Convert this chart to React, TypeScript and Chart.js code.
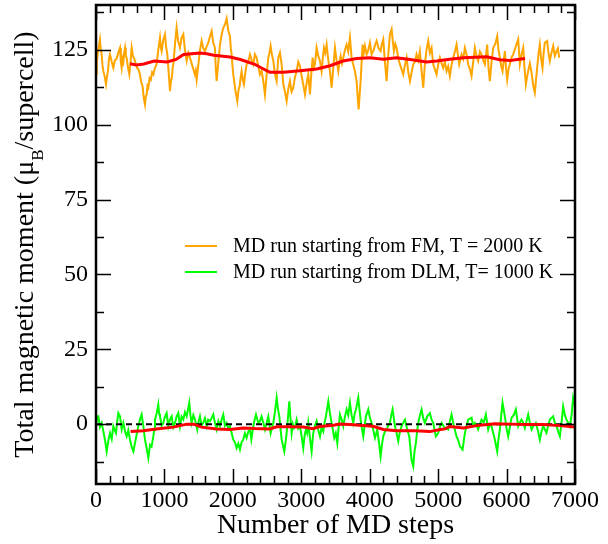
import React, { useEffect, useRef } from "react";
import { Chart, registerables } from "chart.js";

Chart.register(...registerables);

// ---------- data: [MD step, total moment] ----------
const fmLabel = "MD run starting from FM, T = 2000 K";
const dlmLabel = "MD run starting from DLM, T= 1000 K";

const fmTrace: number[][] = [
  [0, 117], [12, 121], [25, 124], [40, 126], [58, 128.5], [70, 125], [80, 124], [95, 120], [107, 117.9], [128, 116],
  [146, 113.5], [160, 116], [175, 118], [190, 122], [205, 123.5], [230, 121], [253, 119], [275, 121.5], [300, 122], [325, 124],
  [351, 125.7], [363, 121], [375, 119], [388, 122], [400, 121], [412, 124], [424, 125.7], [436, 123], [448, 122.4], [468, 119],
  [487, 116.8], [505, 121], [521, 125.7], [540, 123], [560, 122], [580, 120.5], [600, 119], [620, 118.5], [643, 116.8], [662, 114],
  [680, 113], [698, 109], [716, 106.8], [728, 109.5], [740, 110], [752, 113], [765, 112.4], [783, 115.5], [800, 115], [820, 117.5],
  [838, 116.8], [862, 119], [886, 120.2], [910, 125], [935, 129.1], [947, 126], [959, 124.6], [985, 128.5], [1008, 130.2], [1025, 126],
  [1042, 123.5], [1060, 118], [1070, 115], [1081, 111.2], [1095, 114.5], [1110, 116], [1120, 119], [1130, 120.2], [1155, 127], [1178, 132.4],
  [1200, 128], [1227, 125.7], [1250, 129], [1276, 130.2], [1300, 125], [1325, 121.3], [1350, 124], [1373, 122.4], [1410, 119.5], [1446, 116.8],
  [1458, 118], [1471, 115.1], [1500, 121], [1520, 125], [1544, 128], [1568, 125.5], [1592, 124.6], [1615, 126], [1641, 127.4], [1665, 129.5],
  [1690, 131.3], [1712, 127.5], [1738, 125.7], [1750, 119], [1763, 114.6], [1788, 121], [1812, 126.8], [1835, 130], [1860, 132.4], [1885, 133.5],
  [1909, 135.5], [1933, 131.5], [1958, 129.6], [1970, 125.5], [1982, 123.5], [1995, 119.5], [2006, 116.8], [2040, 111], [2065, 107.9], [2082, 111.5],
  [2100, 113], [2115, 116], [2128, 117.9], [2145, 115], [2162, 113.5], [2180, 117], [2201, 120.2], [2225, 121], [2250, 123.5], [2275, 121.5],
  [2299, 120.2], [2322, 123.5], [2347, 122.4], [2372, 119.5], [2396, 116.8], [2420, 118], [2445, 114.6], [2469, 110.1], [2495, 117], [2518, 122.4],
  [2535, 124], [2552, 126.3], [2570, 123.5], [2591, 121.3], [2615, 117], [2640, 114.6], [2664, 122.4], [2688, 124.1], [2713, 120.2], [2737, 113.5],
  [2762, 111], [2786, 107.9], [2810, 112], [2834, 114.6], [2858, 111], [2883, 112.4], [2908, 116], [2932, 117.9], [2956, 121], [2981, 119.6],
  [3000, 117], [3019, 114.6], [3036, 112.5], [3054, 110.1], [3078, 114], [3102, 116.8], [3127, 110.1], [3146, 117], [3166, 122.4], [3183, 119],
  [3200, 120.2], [3224, 125.7], [3248, 123], [3273, 121.3], [3297, 117.9], [3314, 122], [3331, 125.7], [3350, 124], [3370, 126.8], [3395, 121.5],
  [3419, 117.9], [3443, 112.4], [3468, 119], [3492, 125.7], [3516, 121.5], [3541, 117.9], [3558, 121], [3575, 123], [3595, 120.5], [3614, 122.4],
  [3638, 125], [3662, 126.8], [3686, 124.5], [3711, 129.1], [3735, 122.4], [3760, 120], [3784, 117.9], [3808, 114.6], [3838, 105.1], [3867, 114.6],
  [3882, 121], [3896, 126.8], [3913, 124], [3930, 126.3], [3955, 123.5], [3980, 125], [4003, 127.4], [4028, 123.5], [4052, 124.6], [4077, 126.5],
  [4101, 128], [4130, 125.5], [4159, 124.6], [4178, 127], [4198, 128.5], [4222, 121], [4247, 114.6], [4270, 123], [4295, 130.2], [4320, 131.9],
  [4337, 128], [4354, 124.6], [4374, 127], [4393, 125.7], [4418, 122], [4442, 120.2], [4466, 118.5], [4490, 116.8], [4515, 120], [4539, 122.4],
  [4564, 117.5], [4588, 114.6], [4612, 117.5], [4636, 120.2], [4660, 121], [4684, 123.5], [4708, 121.5], [4733, 124.6], [4758, 118], [4782, 112.4],
  [4806, 120.2], [4830, 125], [4855, 128], [4880, 124], [4904, 125.7], [4928, 120.2], [4952, 118.5], [4977, 116.8], [5000, 120], [5025, 122.4],
  [5050, 120.5], [5074, 119], [5098, 121], [5123, 117.9], [5147, 119.5], [5171, 116.3], [5196, 120], [5220, 122.4], [5245, 124.5], [5269, 126.8],
  [5290, 123], [5308, 120.2], [5342, 123.5], [5366, 122], [5391, 125.7], [5415, 123.5], [5439, 120.2], [5465, 118.5], [5488, 116.3], [5512, 121],
  [5537, 125.7], [5560, 123], [5585, 121.3], [5610, 124.5], [5634, 123.5], [5660, 121.5], [5683, 120.2], [5700, 123.5], [5717, 126.8], [5736, 119],
  [5756, 114.6], [5780, 121], [5805, 125.7], [5835, 127], [5863, 129.6], [5882, 125], [5902, 122.4], [5922, 119.5], [5941, 117.9], [5975, 124.6],
  [5992, 119], [6009, 115.1], [6028, 118.5], [6048, 120.2], [6072, 122.5], [6097, 123.5], [6133, 126], [6170, 128.5], [6194, 120.2], [6218, 123.5],
  [6243, 125.7], [6262, 119], [6282, 113.5], [6300, 116], [6316, 117.9], [6340, 120.5], [6365, 117.4], [6390, 113], [6413, 110.7], [6430, 115],
  [6447, 119], [6466, 123.5], [6486, 126.8], [6505, 122], [6525, 119], [6542, 124], [6559, 127.4], [6593, 128], [6612, 124], [6632, 121.3],
  [6656, 124], [6681, 126.3], [6705, 123], [6730, 124.6], [6750, 125.5], [6769, 122.4],
];

const dlmTrace: number[][] = [
  [0, -0.7], [15, 2.5], [34, 2.6], [58, -1], [83, 0.4], [108, -2.5], [131, -5.2], [156, -9.1], [180, -5.5], [205, -3],
  [230, -5], [253, -0.7], [272, -2], [292, -3], [310, 1], [326, 3.7], [351, 2.6], [375, -1.8], [400, 0.4], [425, -2.5],
  [448, -4.1], [472, -2], [497, -5.2], [520, -7.5], [546, -9.1], [570, -6.3], [594, -3.5], [618, -0.7], [642, 1.5], [667, 3.2],
  [692, -0.7], [716, -5.2], [740, -8], [765, -11.3], [789, -6.9], [812, -7.5], [838, -4.1], [850, -2], [862, 1.5], [886, 3.5],
  [910, 6.5], [922, 3.5], [935, 2.6], [960, -0.5], [984, 0.4], [1008, 2.5], [1032, 3.7], [1057, -0.7], [1080, 1.5], [1105, 2.6],
  [1130, -1], [1154, 0.4], [1178, 2.5], [1203, 3.7], [1227, -0.7], [1250, 2.5], [1276, 1.5], [1300, 4], [1325, 2.6], [1363, 7.1],
  [1380, 3], [1398, 0.4], [1422, 3], [1446, 1.5], [1480, -1.8], [1500, 1], [1519, 2.6], [1543, -0.5], [1568, 0.4], [1592, 2],
  [1617, -0.7], [1640, 1.5], [1665, 1], [1690, 2], [1714, 3.2], [1738, 0.5], [1763, -1.8], [1788, 1], [1812, -0.7], [1836, 1.5],
  [1860, 3.2], [1884, -0.5], [1909, 0.4], [1933, -1.5], [1958, -0.7], [1982, -3], [2006, -5.2], [2030, -6], [2055, -8], [2080, -6.5],
  [2104, -8.5], [2128, -6], [2152, -5.2], [2176, -3], [2201, -4.6], [2225, -2.5], [2250, -1.8], [2270, -5.2], [2299, -0.7], [2318, 1.5],
  [2338, 3.2], [2372, 0.4], [2396, 1], [2420, 2.6], [2445, 0.5], [2469, -1.8], [2494, 0.5], [2518, 2.6], [2552, -3], [2591, 0.4],
  [2615, 4], [2640, 8.8], [2660, 5], [2679, 2.6], [2696, -1.5], [2713, -5.2], [2752, -9.1], [2770, -6], [2786, -3], [2805, 2],
  [2825, 7.6], [2842, 2], [2859, -3], [2876, 0], [2893, -1.3], [2912, -0.5], [2932, 1.5], [2956, -1.5], [2981, -0.7], [3005, -4],
  [3029, -8], [3048, -4], [3068, -1.8], [3085, -3], [3102, 0.4], [3126, -4.5], [3151, -9.1], [3175, -3], [3200, -0.5], [3224, 1],
  [3248, -2], [3273, -4.1], [3297, -1], [3321, -2.4], [3340, 0.5], [3360, 2.6], [3395, 7.6], [3420, 3.5], [3443, 0.4], [3462, -2],
  [3482, -4.6], [3504, -3], [3526, -6.3], [3546, -1], [3565, 3.2], [3590, 1.5], [3614, -0.7], [3638, 2.5], [3662, 4.9], [3686, 3],
  [3711, 7.1], [3735, 3], [3760, 0.4], [3780, 3.5], [3799, 4.9], [3833, 8.8], [3850, 5], [3867, 1.5], [3886, -1.5], [3906, -4.1],
  [3926, -0.5], [3945, 2.6], [3979, 4.9], [4004, 2], [4028, 0.4], [4052, -2], [4077, -4.6], [4110, -1.8], [4135, -6], [4159, -10.8],
  [4178, -7], [4198, -4.1], [4222, -2.5], [4247, -1.8], [4270, -0.5], [4295, 0.4], [4315, 3], [4334, 4.9], [4369, -0.7], [4393, -3],
  [4417, -5.7], [4442, -2.5], [4466, -0.7], [4490, 0.5], [4515, 1.5], [4545, -1.5], [4578, -4.1], [4612, -12], [4636, -14.1], [4655, -9],
  [4675, -6.3], [4692, -2.5], [4709, 0.4], [4734, 3], [4758, 4.9], [4782, 2], [4806, 0.4], [4840, 2.6], [4879, 3.7], [4904, 1.5],
  [4928, 0.4], [4948, -2], [4967, -4.1], [5001, -3], [5025, -1], [5050, 0.4], [5075, -0.5], [5099, -1.3], [5147, -1.8], [5172, 1],
  [5196, 3.2], [5220, 0.4], [5245, -2], [5269, -4.1], [5294, -5.5], [5318, -7.4], [5357, -8.5], [5391, -3], [5415, -0.5], [5439, 1.5],
  [5488, 2.1], [5512, -0.5], [5537, 0.4], [5560, -0.5], [5585, -1.8], [5610, 0], [5634, 1.5], [5665, 0.5], [5697, 3.2], [5731, -1.8],
  [5755, 0], [5780, -0.7], [5805, -3], [5829, -5.2], [5863, -9.1], [5882, -5], [5902, -1.8], [5922, 3], [5941, 7.1], [5975, 2.6],
  [6000, -1.5], [6024, -4.1], [6048, -1], [6072, 2.1], [6104, 3], [6136, 4.9], [6170, -0.7], [6194, 0.5], [6218, 1.5], [6242, 0.5],
  [6267, -1.3], [6292, 1], [6316, 3.2], [6340, 0.5], [6365, -1.8], [6396, -0.5], [6428, 0.4], [6456, -2], [6486, -5.2], [6510, -2.5],
  [6535, -0.7], [6584, -2.9], [6608, -0.5], [6632, 1.5], [6681, 2.6], [6705, 0.5], [6730, -0.7], [6755, -2.5], [6779, -4.1], [6803, 0.5],
  [6827, 5.9], [6852, 3], [6876, 1.5], [6925, -0.7], [6950, 3], [6973, 8.8], [7000, 6],
];

const fmAverage: number[][] = [
  [497, 120.4], [590, 120], [700, 120.3], [850, 121.3], [1040, 121], [1170, 121.8], [1280, 123.5], [1520, 124], [1620, 123.7], [1720, 123.2],
  [1960, 122.6], [2110, 121.8], [2320, 120.2], [2400, 119.2], [2540, 117.5], [2740, 117.5], [2980, 118], [3225, 118.6], [3420, 119.7], [3610, 121.3],
  [3810, 122.1], [4000, 122.4], [4200, 121.9], [4390, 122.4], [4590, 121.8], [4830, 121], [4980, 121.3], [5170, 121.9], [5370, 122.4], [5710, 122.7],
  [5900, 121.7], [6050, 121.5], [6270, 122.1],
];

const dlmAverage: number[][] = [
  [505, -2.5], [690, -2.2], [880, -1.6], [1130, -1], [1330, 0], [1430, 0], [1540, -1], [1760, -1.6], [1960, -1.8], [2150, -1.3],
  [2320, -1.5], [2540, -1.6], [2640, -0.9], [2830, -0.9], [3030, -1], [3170, -1.5], [3270, -0.8], [3470, -0.4], [3560, 0], [3710, -0.1],
  [3900, -0.5], [4050, -0.7], [4200, -1.8], [4390, -2.2], [4660, -2.2], [4880, -2.5], [5030, -1.8], [5100, -1.6], [5170, -0.8], [5370, -1.3],
  [5560, -0.5], [5830, 0.1], [6050, 0], [6290, -0.1], [6530, -0.1], [6780, -0.5], [7000, -1],
];

const zeroLine: number[][] = [[0, 0], [7000, 0]];

const xMajorTicks = [0, 1000, 2000, 3000, 4000, 5000, 6000, 7000];
const xMinorTicks = [200, 400, 600, 800, 1200, 1400, 1600, 1800, 2200, 2400, 2600, 2800, 3200, 3400, 3600, 3800, 4200, 4400, 4600, 4800, 5200, 5400, 5600, 5800, 6200, 6400, 6600, 6800];
const yMajorTicks = [0, 25, 50, 75, 100, 125];
const yMinorTicks = [-12.5, 12.5, 37.5, 62.5, 87.5, 112.5, 137.5];

const xAxisTitle = "Number of MD steps";
const yTitleMain = "Total magnetic moment (μ";
const yTitleSub = "B";
const yTitleEnd = "/supercell)";

const SERIF = "'Liberation Serif', 'Times New Roman', serif";

const toPoints = (pairs: number[][]) => pairs.map(([x, y]) => ({ x, y }));

const framePlugin = {
  id: "framePlugin",
  afterDatasetsDraw(chart: any) {
    const { ctx, chartArea } = chart;
    const { left, right, top, bottom } = chartArea;
    const xs = chart.scales.x;
    const ys = chart.scales.y;
    ctx.save();
    ctx.strokeStyle = "#000";
    ctx.lineWidth = 1.5;
    ctx.beginPath();
    const major = 15;
    const minor = 8;
    xMajorTicks.forEach((v) => {
      const p = Math.round(xs.getPixelForValue(v)) + 0.5;
      ctx.moveTo(p, bottom); ctx.lineTo(p, bottom - major);
      ctx.moveTo(p, top); ctx.lineTo(p, top + major);
    });
    xMinorTicks.forEach((v) => {
      const p = Math.round(xs.getPixelForValue(v)) + 0.5;
      ctx.moveTo(p, bottom); ctx.lineTo(p, bottom - minor);
      ctx.moveTo(p, top); ctx.lineTo(p, top + minor);
    });
    yMajorTicks.forEach((v) => {
      const p = Math.round(ys.getPixelForValue(v)) + 0.5;
      ctx.moveTo(left, p); ctx.lineTo(left + major, p);
      ctx.moveTo(right, p); ctx.lineTo(right - major, p);
    });
    yMinorTicks.forEach((v) => {
      const p = Math.round(ys.getPixelForValue(v)) + 0.5;
      ctx.moveTo(left, p); ctx.lineTo(left + minor, p);
      ctx.moveTo(right, p); ctx.lineTo(right - minor, p);
    });
    ctx.stroke();
    ctx.lineWidth = 2.5;
    ctx.strokeRect(left, top, right - left, bottom - top);

    // legend (only the two MD runs)
    ctx.font = `20px ${SERIF}`;
    ctx.textBaseline = "alphabetic";
    ctx.textAlign = "left";
    [0, 1].forEach((di, i) => {
      const ds = chart.data.datasets[di];
      const ly = 246 + i * 26;
      ctx.strokeStyle = ds.borderColor;
      ctx.lineWidth = 2;
      ctx.beginPath();
      ctx.moveTo(185, ly);
      ctx.lineTo(217, ly);
      ctx.stroke();
      ctx.fillStyle = "#000";
      ctx.fillText(ds.label, 233, ly + 6);
    });

    // y-axis title with subscript
    ctx.fillStyle = "#000";
    const mainFont = `28px ${SERIF}`;
    const subFont = `17px ${SERIF}`;
    ctx.font = mainFont;
    const w1 = ctx.measureText(yTitleMain).width;
    const w3 = ctx.measureText(yTitleEnd).width;
    ctx.font = subFont;
    const w2 = ctx.measureText(yTitleSub).width;
    const total = w1 + w2 + w3;
    const cy = (top + bottom) / 2;
    ctx.translate(33, cy);
    ctx.rotate(-Math.PI / 2);
    let x0 = -total / 2;
    ctx.font = mainFont;
    ctx.fillText(yTitleMain, x0, 0);
    x0 += w1;
    ctx.font = subFont;
    ctx.fillText(yTitleSub, x0, 10);
    x0 += w2;
    ctx.font = mainFont;
    ctx.fillText(yTitleEnd, x0, 0);
    ctx.restore();
  },
};

export default function App() {
  const ref = useRef<HTMLCanvasElement>(null);
  useEffect(() => {
    if (!ref.current) return;
    const common = { pointRadius: 0, tension: 0, fill: false };
    const chart = new Chart(ref.current, {
      type: "line",
      data: {
        datasets: [
          { ...common, label: fmLabel, data: toPoints(fmTrace), borderColor: "#FFA500", borderWidth: 2, order: 4 },
          { ...common, label: dlmLabel, data: toPoints(dlmTrace), borderColor: "#00FF00", borderWidth: 2, order: 3 },
          { ...common, label: "zero", data: toPoints(zeroLine), borderColor: "#000000", borderWidth: 2, borderDash: [6, 4], order: 2 },
          { ...common, label: "FM average", data: toPoints(fmAverage), borderColor: "#FF0000", borderWidth: 3, order: 1 },
          { ...common, label: "DLM average", data: toPoints(dlmAverage), borderColor: "#FF0000", borderWidth: 3, order: 0 },
        ],
      },
      options: {
        responsive: false,
        animation: false,
        layout: { padding: { left: 0, top: 5, right: 33, bottom: 0 } },
        plugins: { legend: { display: false }, tooltip: { enabled: false }, title: { display: false } },
        scales: {
          x: {
            type: "linear",
            min: 0,
            max: 7000,
            afterBuildTicks: (s: any) => { s.ticks = xMajorTicks.map((v) => ({ value: v })); },
            afterFit: (s: any) => { s.height = 60; s.paddingLeft = 0; s.paddingRight = 0; },
            grid: { display: false, drawTicks: false },
            border: { display: false },
            ticks: { color: "#000", font: { family: SERIF, size: 24 }, padding: 2, maxRotation: 0, autoSkip: false, callback: (v: any) => String(v) },
            title: { display: true, text: xAxisTitle, color: "#000", font: { family: SERIF, size: 28 }, padding: { top: 0, bottom: 2 } },
          },
          y: {
            type: "linear",
            min: -20,
            max: 140,
            afterBuildTicks: (s: any) => { s.ticks = yMajorTicks.map((v) => ({ value: v })); },
            afterFit: (s: any) => { s.width = 96; s.paddingTop = 0; s.paddingBottom = 0; },
            grid: { display: false, drawTicks: false },
            border: { display: false },
            ticks: { color: "#000", font: { family: SERIF, size: 24 }, padding: 8, callback: (v: any) => String(v) },
          },
        },
      },
      plugins: [framePlugin],
    });
    return () => chart.destroy();
  }, []);
  return (
    <div style={{ position: "absolute", left: 0, top: 0, width: 608, height: 544, background: "#fff" }}>
      <canvas ref={ref} width={608} height={544} style={{ display: "block" }} />
    </div>
  );
}
